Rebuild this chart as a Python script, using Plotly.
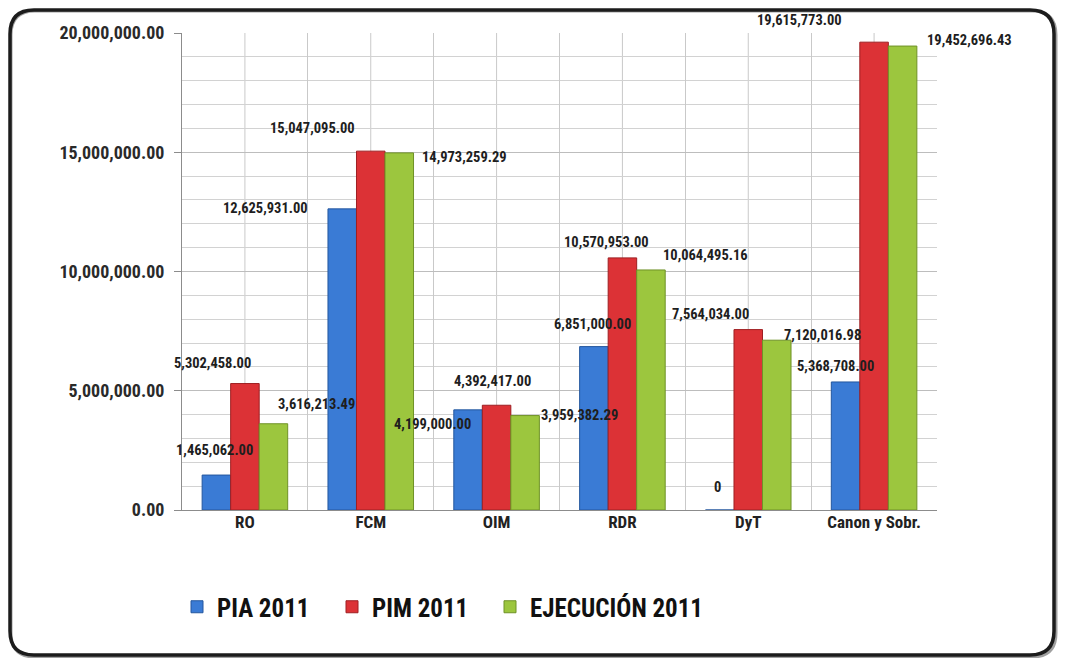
import plotly.graph_objects as go

categories = ["RO", "FCM", "OIM", "RDR", "DyT", "Canon y Sobr."]
pia_2011 = [1465062.00, 12625931.00, 4199000.00, 6851000.00, 0, 5368708.00]
pim_2011 = [5302458.00, 15047095.00, 4392417.00, 10570953.00, 7564034.00, 19615773.00]
ejec_2011 = [3616213.49, 14973259.29, 3959382.29, 10064495.16, 7120016.98, 19452696.43]
series_names = ["PIA 2011", "PIM 2011", "EJECUCIÓN 2011"]
y_ticks = [0, 5e6, 10e6, 15e6, 20e6]

colors = ["#3a7bd5", "#dc3236", "#9cc63e"]
edge = ["#24579e", "#9e1f22", "#6f9227"]

# label offsets in pixels (x from category center, y from bar top)
offsets = [
    [(-30, 25), (-105, 0), (-64, -15), (-30, 22), (-31, 23), (-39, 15)],
    [(-32, 20), (-58, 23), (-4, 24), (-16, 15), (-38, 15), (-75, 22)],
    [(72, 19), (94, -5), (83, 0), (83, 14), (74, 5), (95, 6)],
]

FONT = "Roboto Condensed, Roboto, sans-serif"

# page body has an 8px margin: figure coords = screen coords - 8
FW, FH = 1050, 650
L, R, T, B = 174, 929, 25, 502
W, H = R - L, B - T

def px(x):
    return (x - L) / W

def py(y):
    return (B - y) / H

legend_ids = ["legend", "legend2", "legend3"]
legend_x = [169, 324, 482]

fig = go.Figure()
all_series = [pia_2011, pim_2011, ejec_2011]
for name, vals, c, e, lg in zip(series_names, all_series, colors, edge, legend_ids):
    fig.add_trace(go.Bar(
        x=categories, y=vals, name=name, legend=lg,
        marker=dict(color=c, line=dict(color=e, width=1)),
    ))

def fmt(v):
    return "0" if v == 0 else f"{v:,.2f}"

annotations = []
for si, vals in enumerate(all_series):
    for ci, (cat, v) in enumerate(zip(categories, vals)):
        dx, dy = offsets[si][ci]
        annotations.append(dict(
            x=cat, y=v, xref="x", yref="y", text=fmt(v), showarrow=False,
            xanchor="center", yanchor="middle", xshift=dx, yshift=dy,
            font=dict(family=FONT, size=14.5, color="#1e1e1e", weight="bold"),
        ))

def rounded_path(l, t, r, b, rad):
    rx, ry = rad / W, rad / H
    x0, x1 = px(l), px(r)
    y0, y1 = py(t), py(b)
    return (f"M {x0+rx},{y0} L {x1-rx},{y0} Q {x1},{y0} {x1},{y0-ry} "
            f"L {x1},{y1+ry} Q {x1},{y1} {x1-rx},{y1} "
            f"L {x0+rx},{y1} Q {x0},{y1} {x0},{y1+ry} "
            f"L {x0},{y0-ry} Q {x0},{y0} {x0+rx},{y0} Z")

shapes = [
    dict(type="path", xref="paper", yref="paper", path=rounded_path(3, 3, 1048, 649, 24),
         line=dict(color="#a0a0a0", width=3), layer="below"),
    dict(type="path", xref="paper", yref="paper", path=rounded_path(2, 2, 1046, 647, 24),
         line=dict(color="#1c1c1c", width=3.5), layer="below"),
]
for cat in categories:
    shapes.append(dict(type="line", xref="x", yref="paper", x0=cat, x1=cat, y0=0, y1=1,
                       line=dict(color="#c9c9c9", width=1), layer="below"))

legend_style = dict(font=dict(family=FONT, size=25, color="#111", weight="bold"),
                    bgcolor="rgba(0,0,0,0)", xanchor="left", yanchor="middle", y=py(599))

fig.update_layout(
    width=FW, height=FH,
    margin=dict(l=L, r=FW - R, t=T, b=FH - B, autoexpand=False),
    paper_bgcolor="white", plot_bgcolor="white",
    barmode="group", bargap=0.32, bargroupgap=0,
    font=dict(family=FONT, color="#222"),
    showlegend=True,
    legend=dict(x=px(legend_x[0]), **legend_style),
    legend2=dict(x=px(legend_x[1]), **legend_style),
    legend3=dict(x=px(legend_x[2]), **legend_style),
    annotations=annotations,
    shapes=shapes,
)
fig.update_xaxes(
    type="category", range=[-0.5, 5.5], tickson="boundaries", showgrid=True,
    gridcolor="#c9c9c9", gridwidth=1, automargin=False, tickangle=0,
    showline=True, linecolor="#8c8c8c", linewidth=1, ticks="", zeroline=False,
    ticklabelstandoff=-3,
    tickfont=dict(family=FONT, size=17, color="#222", weight="bold"),
)
fig.update_yaxes(
    range=[0, 20e6], tickvals=y_ticks, tickformat=",.2f", automargin=False,
    showgrid=True, gridcolor="#bdbdbd", gridwidth=1, zeroline=False,
    showline=True, linecolor="#8c8c8c", linewidth=1,
    ticks="outside", ticklen=7, tickcolor="#8c8c8c", ticklabelstandoff=6,
    minor=dict(dtick=1e6, showgrid=True, gridcolor="#d2d2d2", gridwidth=1, ticks=""),
    tickfont=dict(family=FONT, size=18, color="#2a2a2a", weight="bold"),
)

fig.write_html("out.html")
